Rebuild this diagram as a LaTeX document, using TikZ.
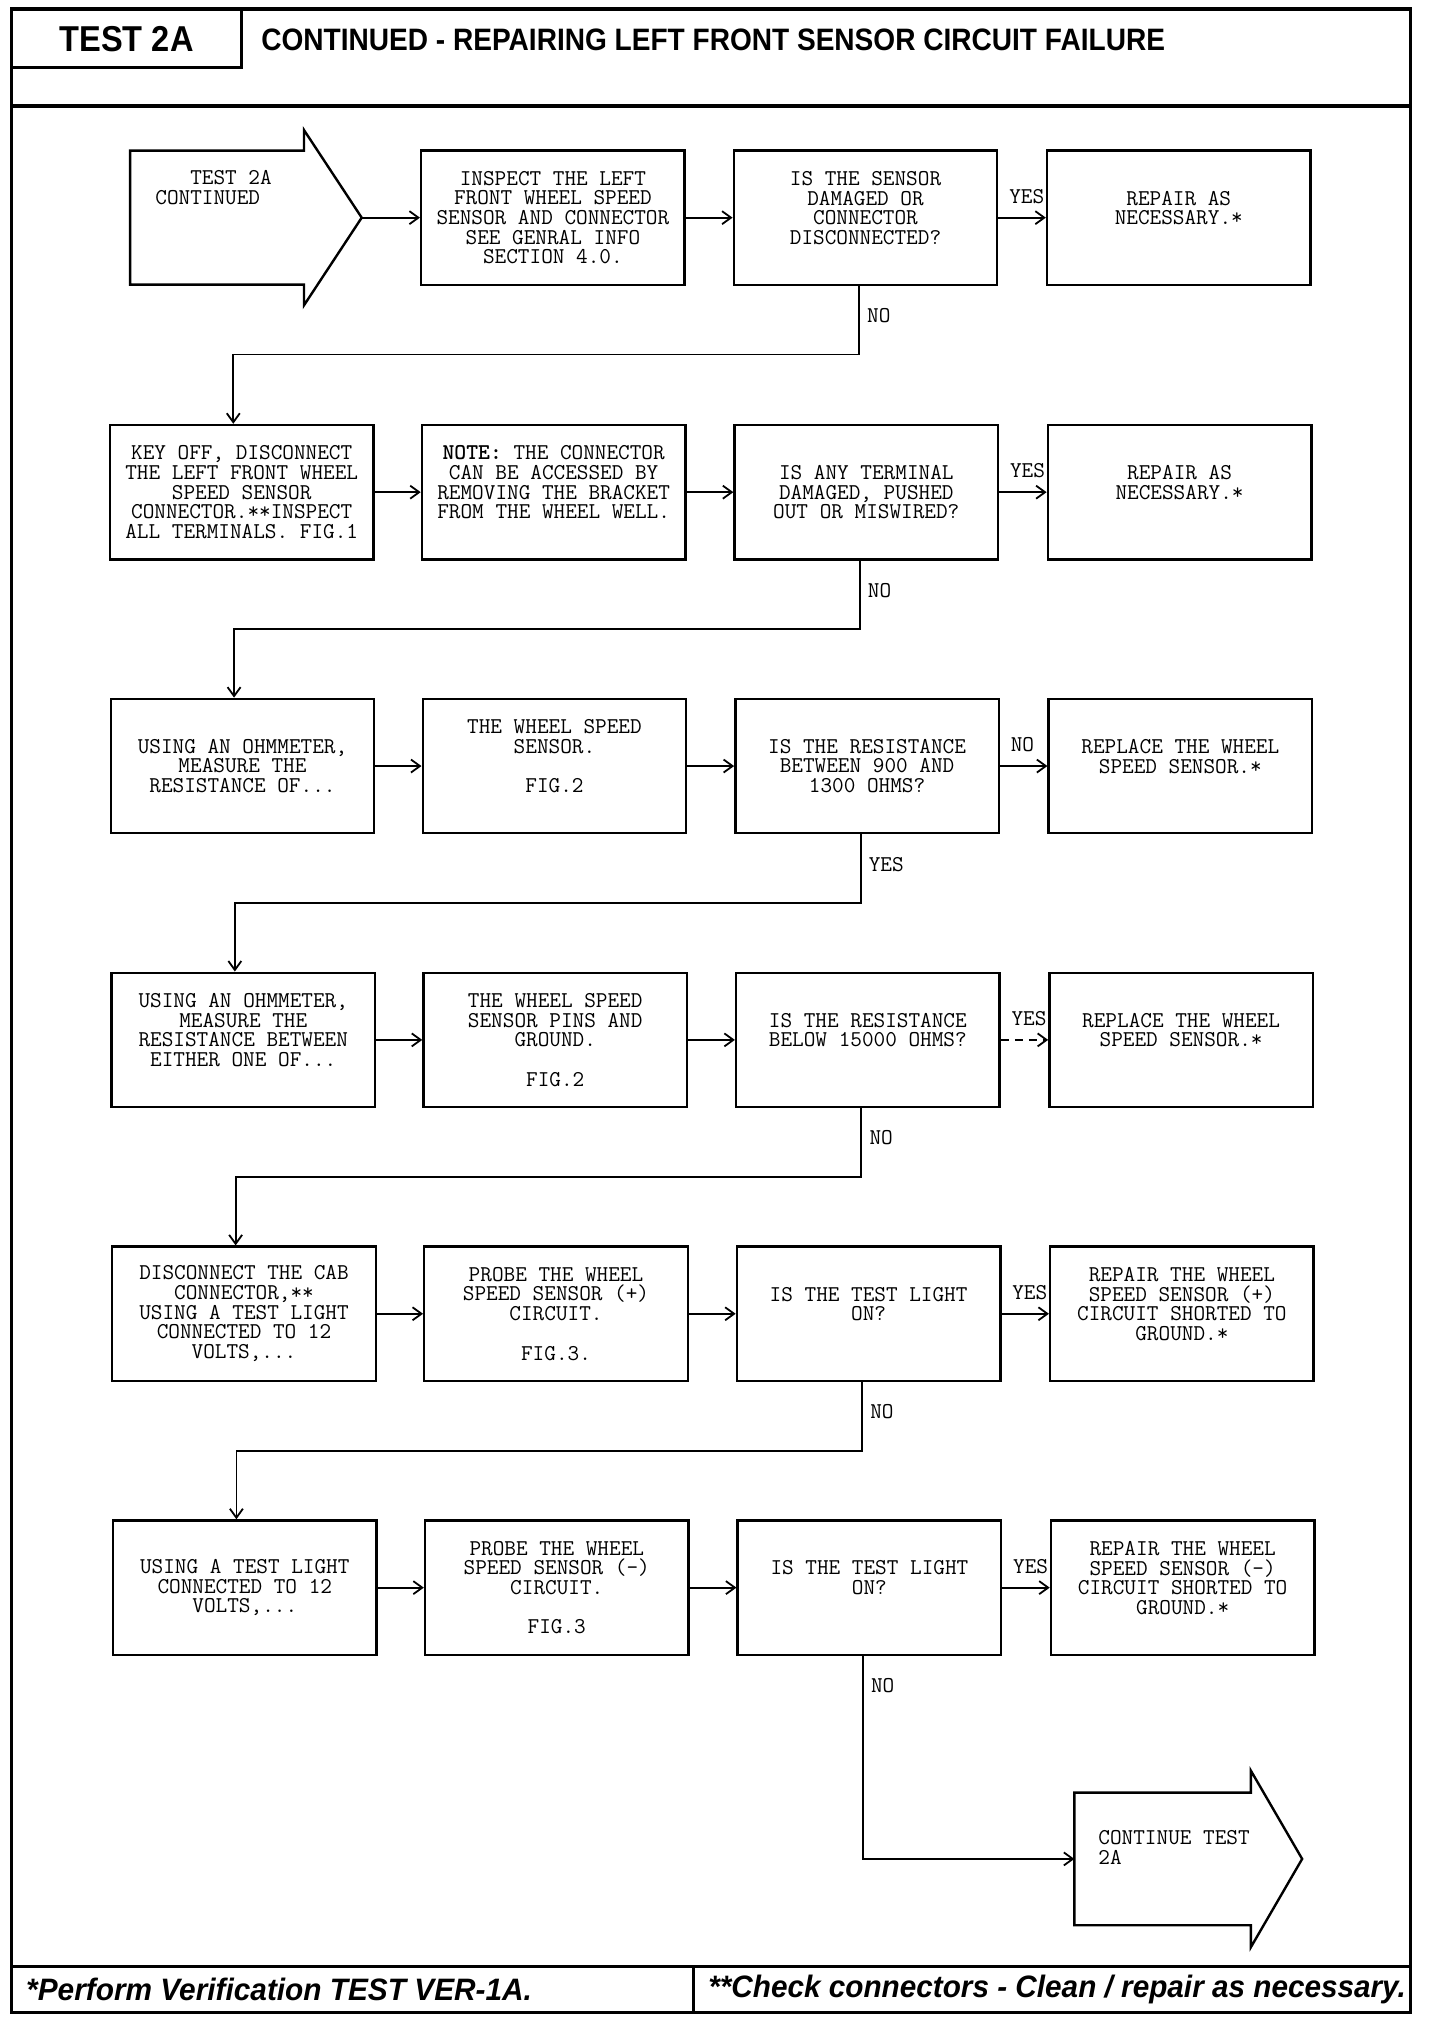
\documentclass[tikz,border=0pt]{standalone}
\usepackage{fontspec}
\setmainfont{Liberation Sans}
\usepackage{graphicx}
\usetikzlibrary{arrows.meta,calc}
\newcommand\boxfont{\ttfamily\fontsize{11.3}{9.85}\selectfont}
\newcommand\blk{\\\mbox{}}
\tikzset{
  frame/.style={line width=1.6pt},
  box/.style={draw, line width=1.2pt, minimum width=131.8pt, minimum height=67.2pt, inner sep=0pt, align=center, font=\boxfont},
  conn/.style={line width=0.9pt, -{Straight Barb[length=4.5pt,width=6.5pt]}},
  lbl/.style={font=\boxfont, inner sep=0pt},
  arrowshape/.style={line width=1.2pt, line join=miter},
  body/.style={inner sep=0pt, draw=none}
}
\begin{document}
\begin{tikzpicture}[x=0.6462pt,y=-0.6462pt]
\useasboundingbox (0,0) rectangle (1114.6,1566.8);
% frame and header
\draw[frame] (9,7) rectangle (1092,1558);
\draw[frame] (9,82) -- (1092,82);
\draw[frame] (187,7) -- (187,52) -- (9,52);
\draw[frame] (9,1522) -- (1092,1522);
\draw[frame] (537,1522) -- (537,1558);
\node[inner sep=0pt] (hdrtest) at (98,30) {\resizebox{67pt}{\height}{\bfseries\fontsize{18}{18}\selectfont TEST 2A}};
\node[inner sep=0pt, anchor=west] (hdrtitle) at (202,31) {\resizebox{452pt}{\height}{\bfseries\fontsize{15.5}{15.5}\selectfont CONTINUED - REPAIRING LEFT FRONT SENSOR CIRCUIT FAILURE}};
\node[inner sep=0pt, anchor=west] (footl) at (20,1540) {\resizebox{253pt}{\height}{\bfseries\itshape\fontsize{15.5}{15.5}\selectfont *Perform Verification TEST VER-1A.}};
\node[inner sep=0pt, anchor=west] (footr) at (548,1540) {\resizebox{349pt}{\height}{\bfseries\itshape\fontsize{15.5}{15.5}\selectfont **Check connectors - Clean / repair as necessary.}};

% start arrow
\node[body, minimum width=86.6pt, minimum height=66.6pt] (start) at (168,168.5) {};
\coordinate (starttip) at (280,168.5);
\draw[arrowshape] (start.north west) -- (start.north east) -- ++(0,-16) -- (starttip) -- ($(start.south east)+(0,16)$) -- (start.south east) -- (start.south west) -- cycle;
\node[lbl, align=left, anchor=west] (starttxt) at (120,145) {\phantom{XXX}TEST 2A\\CONTINUED};

% row 1
\node[box] (r1c2) at (428,168.5) {INSPECT THE LEFT\\FRONT WHEEL SPEED\\SENSOR AND CONNECTOR\\SEE GENRAL INFO\\SECTION 4.0.};
\node[box] (r1c3) at (670,168.5) {IS THE SENSOR\\DAMAGED OR\\CONNECTOR\\DISCONNECTED?\blk};
\node[box] (r1c4) at (912.5,168.5) {REPAIR AS\\NECESSARY.*\blk};
% row 2
\node[box] (r2c1) at (187.1,381) {KEY OFF, DISCONNECT\\THE LEFT FRONT WHEEL\\SPEED SENSOR\\CONNECTOR.**INSPECT\\ALL TERMINALS. FIG.1};
\node[box] (r2c2) at (428.6,381) {\textbf{NOTE:} THE CONNECTOR\\CAN BE ACCESSED BY\\REMOVING THE BRACKET\\FROM THE WHEEL WELL.\blk};
\node[box] (r2c3) at (670.6,381) {IS ANY TERMINAL\\DAMAGED, PUSHED\\OUT OR MISWIRED?};
\node[box] (r2c4) at (913.1,381) {REPAIR AS\\NECESSARY.*\blk};
% row 3
\node[box] (r3c1) at (187.7,593) {USING AN OHMMETER,\\MEASURE THE\\RESISTANCE OF...};
\node[box] (r3c2) at (429.2,593) {THE WHEEL SPEED\\SENSOR.\blk\\FIG.2\blk};
\node[box] (r3c3) at (671.2,593) {IS THE RESISTANCE\\BETWEEN 900 AND\\1300 OHMS?};
\node[box] (r3c4) at (913.7,593) {REPLACE THE WHEEL\\SPEED SENSOR.*\blk};
% row 4
\node[box] (r4c1) at (188.3,805) {USING AN OHMMETER,\\MEASURE THE\\RESISTANCE BETWEEN\\EITHER ONE OF...\blk};
\node[box] (r4c2) at (429.8,805) {THE WHEEL SPEED\\SENSOR PINS AND\\GROUND.\blk\\FIG.2};
\node[box] (r4c3) at (671.8,805) {IS THE RESISTANCE\\BELOW 15000 OHMS?\blk};
\node[box] (r4c4) at (914.3,805) {REPLACE THE WHEEL\\SPEED SENSOR.*\blk};
% row 5
\node[box] (r5c1) at (188.9,1017) {DISCONNECT THE CAB\\CONNECTOR,**\\USING A TEST LIGHT\\CONNECTED TO 12\\VOLTS,...};
\node[box] (r5c2) at (430.4,1017) {PROBE THE WHEEL\\SPEED SENSOR (+)\\CIRCUIT.\blk\\FIG.3.};
\node[box] (r5c3) at (672.4,1017) {IS THE TEST LIGHT\\ON?\blk};
\node[box] (r5c4) at (914.9,1017) {REPAIR THE WHEEL\\SPEED SENSOR (+)\\CIRCUIT SHORTED TO\\GROUND.*\blk};
% row 6
\node[box] (r6c1) at (189.5,1229) {USING A TEST LIGHT\\CONNECTED TO 12\\VOLTS,...};
\node[box] (r6c2) at (431,1229) {PROBE THE WHEEL\\SPEED SENSOR (-)\\CIRCUIT.\blk\\FIG.3};
\node[box] (r6c3) at (673,1229) {IS THE TEST LIGHT\\ON?\blk};
\node[box] (r6c4) at (915.5,1229) {REPAIR THE WHEEL\\SPEED SENSOR (-)\\CIRCUIT SHORTED TO\\GROUND.*\blk};

% end arrow
\node[body, minimum width=87.9pt, minimum height=65.9pt] (endbody) at (900,1439) {};
\coordinate (endtip) at (1008,1439);
\draw[arrowshape] (endbody.north west) -- (endbody.north east) -- ++(0,-17) -- (endtip) -- ($(endbody.south east)+(0,17)$) -- (endbody.south east) -- (endbody.south west) -- cycle;
\node[lbl, align=left, anchor=west] (endtxt) at (850,1430) {CONTINUE TEST\\2A};

% horizontal connectors
\draw[conn] (starttip) -- (r1c2.west);
\draw[conn] (r1c2.east) -- (r1c3.west);
\draw[conn] (r1c3.east) -- (r1c4.west);
\foreach \r in {2,3,5,6}{
  \draw[conn] (r\r c1.east) -- (r\r c2.west);
  \draw[conn] (r\r c2.east) -- (r\r c3.west);
  \draw[conn] (r\r c3.east) -- (r\r c4.west);
}
\draw[conn] (r4c1.east) -- (r4c2.west);
\draw[conn] (r4c2.east) -- (r4c3.west);
\draw[conn, dash pattern=on 4pt off 3pt] (r4c3.east) -- (r4c4.west);

% horizontal labels
\node[lbl, anchor=base east] (h1) at ($(r1c4.west)+(-1,-11)$) {YES};
\node[lbl, anchor=base east] (h2) at ($(r2c4.west)+(-1,-11)$) {YES};
\node[lbl, anchor=base east] (h3) at ($(r3c4.west)+(-10,-11)$) {NO};
\node[lbl, anchor=base east] (h4) at ($(r4c4.west)+(-1,-11)$) {YES};
\node[lbl, anchor=base east] (h5) at ($(r5c4.west)+(-1,-11)$) {YES};
\node[lbl, anchor=base east] (h6) at ($(r6c4.west)+(-1,-11)$) {YES};

% vertical connectors
\draw[conn] ($(r1c3.south)+(-5,0)$) -- ++(0,53) -| ($(r2c1.north)+(-6.5,0)$);
\draw[conn] ($(r2c3.south)+(-5,0)$) -- ++(0,53) -| ($(r3c1.north)+(-6.5,0)$);
\draw[conn] ($(r3c3.south)+(-5,0)$) -- ++(0,53) -| ($(r4c1.north)+(-6.5,0)$);
\draw[conn] ($(r4c3.south)+(-5,0)$) -- ++(0,53) -| ($(r5c1.north)+(-6.5,0)$);
\draw[conn] ($(r5c3.south)+(-5,0)$) -- ++(0,53) -| ($(r6c1.north)+(-6.5,0)$);
\draw[conn] ($(r6c3.south)+(-5,0)$) |- (endbody.west);

% vertical labels
\node[lbl, anchor=west] (v1) at ($(r1c3.south)+(1,23)$) {NO};
\node[lbl, anchor=west] (v2) at ($(r2c3.south)+(1,23)$) {NO};
\node[lbl, anchor=west] (v3) at ($(r3c3.south)+(1,23)$) {YES};
\node[lbl, anchor=west] (v4) at ($(r4c3.south)+(1,23)$) {NO};
\node[lbl, anchor=west] (v5) at ($(r5c3.south)+(1,23)$) {NO};
\node[lbl, anchor=west] (v6) at ($(r6c3.south)+(1,23)$) {NO};
\end{tikzpicture}
\end{document}
